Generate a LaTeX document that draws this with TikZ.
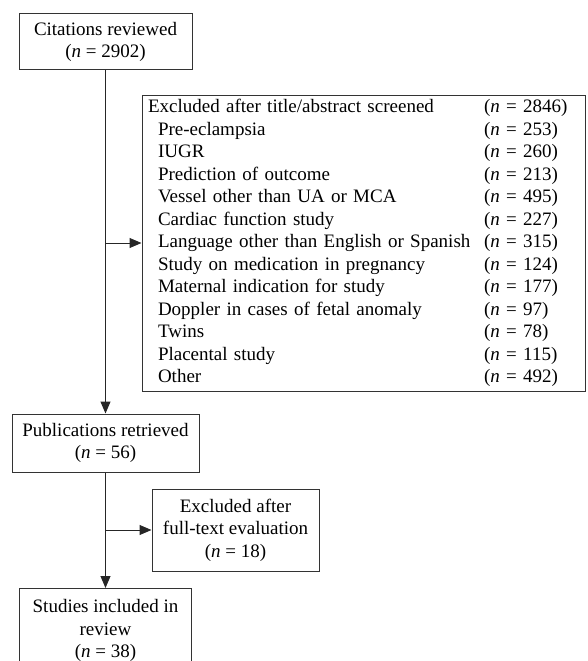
\documentclass[tikz,border=0pt]{standalone}
\usepackage{fontspec}
\setmainfont{Liberation Serif}
\usetikzlibrary{arrows.meta,calc}
\newcommand{\nn}[1]{(\textit{n}~=~#1)}
\begin{document}
\begin{tikzpicture}[x=1pt,y=-1pt,
  box/.style={draw=black!80,line width=1pt,align=center,inner sep=0pt,
    font=\fontsize{19}{22.5}\selectfont},
  conn/.style={draw=black!85,line width=1pt},
  arr/.style={conn,-{Triangle[length=12pt,width=10pt]}}]
\useasboundingbox (0,0) rectangle (587,661);
\clip (0,0) rectangle (587,661);
\node[box,minimum width=173pt,minimum height=56pt] (cit) at (105.5,42)
  {Citations reviewed\\ \nn{2902}};
\node[box,minimum width=443pt,minimum height=296pt,text width=431pt,align=left,inner xsep=6pt] (ex1) at (363.5,243)
  {\renewcommand\arraystretch{1}%
   \begin{tabular}{@{}p{336pt}@{}l@{}}
   Excluded after title/abstract screened & \nn{2846}\\
   \hspace{10pt}Pre-eclampsia & \nn{253}\\
   \hspace{10pt}IUGR & \nn{260}\\
   \hspace{10pt}Prediction of outcome & \nn{213}\\
   \hspace{10pt}Vessel other than UA or MCA & \nn{495}\\
   \hspace{10pt}Cardiac function study & \nn{227}\\
   \hspace{10pt}Language other than English or Spanish & \nn{315}\\
   \hspace{10pt}Study on medication in pregnancy & \nn{124}\\
   \hspace{10pt}Maternal indication for study & \nn{177}\\
   \hspace{10pt}Doppler in cases of fetal anomaly & \nn{97}\\
   \hspace{10pt}Twins & \nn{78}\\
   \hspace{10pt}Placental study & \nn{115}\\
   \hspace{10pt}Other & \nn{492}
   \end{tabular}};
\node[box,minimum width=187pt,minimum height=58pt] (pub) at (105.5,443)
  {Publications retrieved\\ \nn{56}};
\node[box,minimum width=167pt,minimum height=82pt] (ex2) at (235.5,530)
  {Excluded after\\ full-text evaluation\\ \nn{18}};
\node[box,minimum width=172pt,minimum height=84pt,anchor=north] (inc) at (105.5,588)
  {Studies included in\\ review\\ \nn{38}};
\draw[arr] (cit.south) -- (pub.north);
\draw[arr] (cit.south |- ex1.west) -- (ex1.west);
\draw[arr] (pub.south) -- (inc.north);
\draw[arr] (pub.south |- ex2.west) -- (ex2.west);
\end{tikzpicture}
\end{document}
